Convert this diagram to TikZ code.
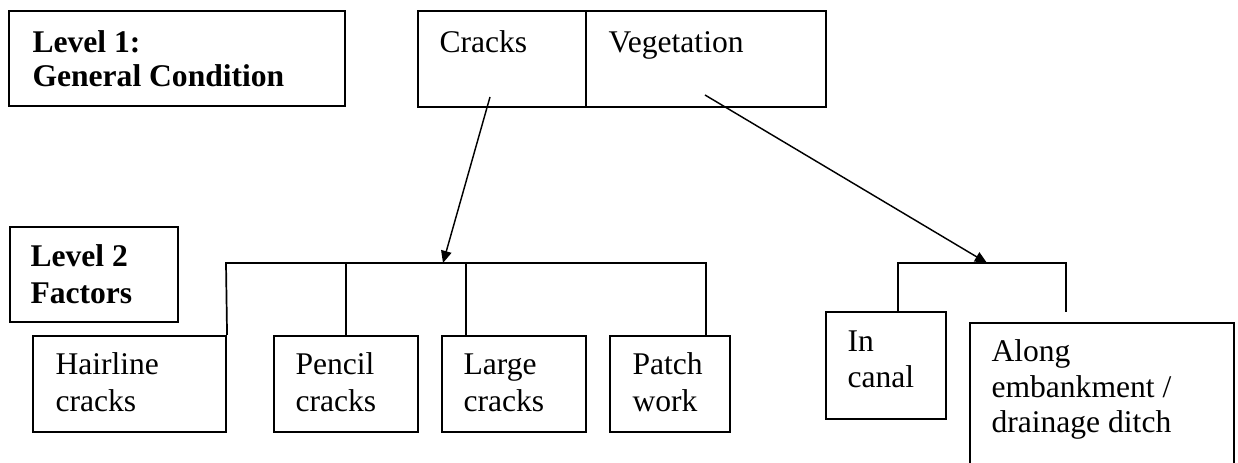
\documentclass[tikz,border=0pt]{standalone}
\usepackage{fontspec}
\setmainfont{Liberation Serif}
\usetikzlibrary{fit,arrows.meta}
\begin{document}
\begin{tikzpicture}[x=0.38pt,y=-0.38pt,
  box/.style={draw,line width=0.8pt,inner sep=0pt},
  txt/.style={anchor=base west,inner sep=0pt,font=\fontsize{12}{14}\selectfont},
  btxt/.style={txt,font=\fontsize{12}{14}\selectfont\bfseries},
  bus/.style={line width=0.65pt},
  arr/.style={line width=0.55pt,-{Triangle[length=4.6pt,width=4pt]}}]
\useasboundingbox (0,0) rectangle (1238,463);
\clip (0,0) rectangle (1238,463);
% Level boxes
\node[box,fit={(9,11) (345,106)}] (lev1) {};
\node[btxt] (lev1a) at (32,53) {Level 1:};
\node[btxt] (lev1b) at (32,87) {General Condition};
\node[box,fit={(10,227) (178,322)}] (lev2) {};
\node[btxt] (lev2a) at (30,267) {Level 2};
\node[btxt] (lev2b) at (30,304) {Factors};
% top box
\node[box,fit={(418,11) (586,107)}] (cracks) {};
\node[box,fit={(586,11) (826,107)}] (veg) {};
\node[txt] (cracksT) at (439,53) {Cracks};
\node[txt] (vegT) at (608,53) {Vegetation};
% level 2 boxes
\node[box,fit={(33,336) (226,432)}] (hair) {};
\node[txt] (hairA) at (55,375) {Hairline};
\node[txt] (hairB) at (55,412) {cracks};
\node[box,fit={(274,336) (418,432)}] (pencil) {};
\node[txt] (pencilA) at (295,375) {Pencil};
\node[txt] (pencilB) at (295,412) {cracks};
\node[box,fit={(442,336) (586,432)}] (large) {};
\node[txt] (largeA) at (463,375) {Large};
\node[txt] (largeB) at (463,412) {cracks};
\node[box,fit={(610,336) (730,432)}] (patch) {};
\node[txt] (patchA) at (632,375) {Patch};
\node[txt] (patchB) at (632,412) {work};
\node[box,fit={(826,312) (946,419)}] (canal) {};
\node[txt] (canalA) at (847,352) {In};
\node[txt] (canalB) at (847,388) {canal};
\node[box,fit={(970,323) (1234,490)}] (along) {};
\node[txt] (alongA) at (991,362) {Along};
\node[txt] (alongB) at (991,398) {embankment /};
\node[txt] (alongC) at (991,433) {drainage ditch};
% buses
\coordinate (b1L) at (226,263);
\coordinate (b1R) at (706,263);
\coordinate (d2) at (346,263);
\coordinate (d3) at (466,263);
\draw[bus] (hair.north east) -- (b1L) -- (b1R) -- (b1R |- patch.north);
\draw[bus] (d2) -- (d2 |- pencil.north);
\draw[bus] (d3) -- (d3 |- large.north);
\coordinate (b2L) at (898,263);
\coordinate (b2R) at (1066,263);
\coordinate (b2E) at (1066,312);
\draw[bus] (b2L |- canal.north) -- (b2L) -- (b2R) -- (b2E);
% arrows
\coordinate (ca) at (490,97);
\coordinate (ct) at (443,263);
\coordinate (va) at (705,95);
\coordinate (vt) at (987,263);
\draw[arr] (ca) -- (ct);
\draw[arr] (va) -- (vt);
\end{tikzpicture}
\end{document}
